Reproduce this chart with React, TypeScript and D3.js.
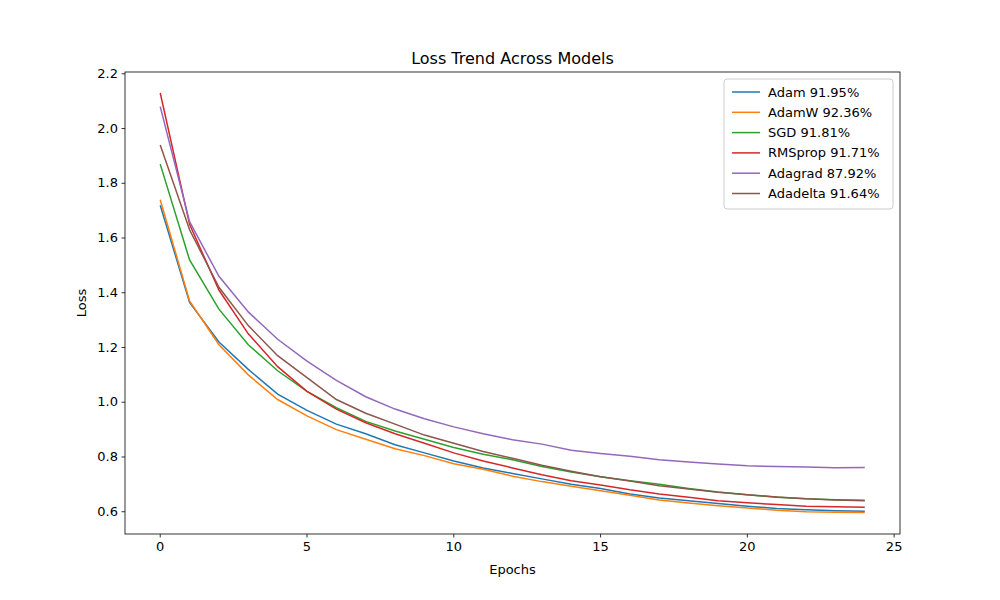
import * as React from 'react';
import * as d3 from 'd3';

const epochs = d3.range(25);
const names = ['Adam 91.95%', 'AdamW 92.36%', 'SGD 91.81%', 'RMSprop 91.71%', 'Adagrad 87.92%', 'Adadelta 91.64%'];
const colors = ['#1f77b4', '#ff7f0e', '#2ca02c', '#d62728', '#9467bd', '#8c564b'];

const adam = [1.72, 1.365, 1.22, 1.12, 1.03, 0.97, 0.92, 0.885, 0.845, 0.815, 0.785, 0.76, 0.74, 0.72, 0.7, 0.685, 0.665, 0.65, 0.64, 0.63, 0.62, 0.612, 0.607, 0.604, 0.602];
const adamw = [1.74, 1.37, 1.21, 1.1, 1.01, 0.95, 0.9, 0.865, 0.83, 0.805, 0.775, 0.755, 0.73, 0.71, 0.693, 0.677, 0.66, 0.643, 0.632, 0.622, 0.614, 0.605, 0.6, 0.598, 0.597];
const sgd = [1.87, 1.52, 1.34, 1.21, 1.115, 1.04, 0.98, 0.93, 0.895, 0.865, 0.835, 0.81, 0.79, 0.765, 0.745, 0.728, 0.713, 0.7, 0.685, 0.672, 0.662, 0.653, 0.647, 0.644, 0.642];
const rmsprop = [2.13, 1.65, 1.41, 1.25, 1.13, 1.04, 0.975, 0.925, 0.885, 0.85, 0.815, 0.785, 0.76, 0.735, 0.713, 0.698, 0.68, 0.665, 0.653, 0.64, 0.633, 0.626, 0.62, 0.618, 0.616];
const adagrad = [2.08, 1.66, 1.46, 1.33, 1.23, 1.15, 1.08, 1.02, 0.975, 0.94, 0.91, 0.885, 0.863, 0.847, 0.825, 0.813, 0.803, 0.79, 0.782, 0.774, 0.768, 0.765, 0.763, 0.761, 0.762];
const adadelta = [1.94, 1.63, 1.42, 1.28, 1.17, 1.09, 1.01, 0.96, 0.92, 0.88, 0.85, 0.82, 0.795, 0.77, 0.748, 0.728, 0.712, 0.695, 0.683, 0.671, 0.662, 0.654, 0.647, 0.643, 0.64];
const series = [adam, adamw, sgd, rmsprop, adagrad, adadelta];

const xTicks = [0, 5, 10, 15, 20, 25];
const yTicks = [0.6, 0.8, 1.0, 1.2, 1.4, 1.6, 1.8, 2.0, 2.2];

export default function App() {
  const W = 1000, H = 600;
  const left = 125, right = 900, top = 72, bottom = 534;
  const x = d3.scaleLinear().domain([-1.2, 25.2]).range([left, right]);
  const y = d3.scaleLinear().domain([0.5186, 2.2066]).range([bottom, top]);
  const line = d3.line<number>().x((_, i) => x(epochs[i])).y(d => y(d));
  const font = 'DejaVu Sans, sans-serif';

  return (
    <svg width={W} height={H} style={{ position: 'absolute', left: 0, top: 0, background: '#fff' }} fontFamily={font}>
      <rect width={W} height={H} fill="#fff" />
      <text x={(left + right) / 2} y={64} textAnchor="middle" fontSize={16}>Loss Trend Across Models</text>
      {series.map((s, i) => (
        <path key={i} d={line(s) || ''} fill="none" stroke={colors[i]} strokeWidth={1.5} />
      ))}
      <rect x={left} y={top} width={right - left} height={bottom - top} fill="none" stroke="#000" strokeWidth={0.8} />
      {xTicks.map(t => (
        <g key={t} transform={`translate(${x(t)},${bottom})`}>
          <line y2={3.5} stroke="#000" strokeWidth={0.8} />
          <text y={17} textAnchor="middle" fontSize={13}>{t}</text>
        </g>
      ))}
      {yTicks.map(t => (
        <g key={t} transform={`translate(${left},${y(t)})`}>
          <line x2={-3.5} stroke="#000" strokeWidth={0.8} />
          <text x={-7} dy="0.32em" textAnchor="end" fontSize={13}>{t.toFixed(1)}</text>
        </g>
      ))}
      <text x={(left + right) / 2} y={574} textAnchor="middle" fontSize={13}>Epochs</text>
      <text transform={`translate(86,${(top + bottom) / 2}) rotate(-90)`} textAnchor="middle" fontSize={13}>Loss</text>
      <g transform="translate(724,79)">
        <rect width={169} height={130} rx={3} fill="#fff" stroke="#ccc" />
        {names.map((n, i) => (
          <g key={n} transform={`translate(0,${13 + i * 20.3})`}>
            <line x1={8} x2={36} stroke={colors[i]} strokeWidth={1.5} />
            <text x={44} dy="0.35em" fontSize={13}>{n}</text>
          </g>
        ))}
      </g>
    </svg>
  );
}
